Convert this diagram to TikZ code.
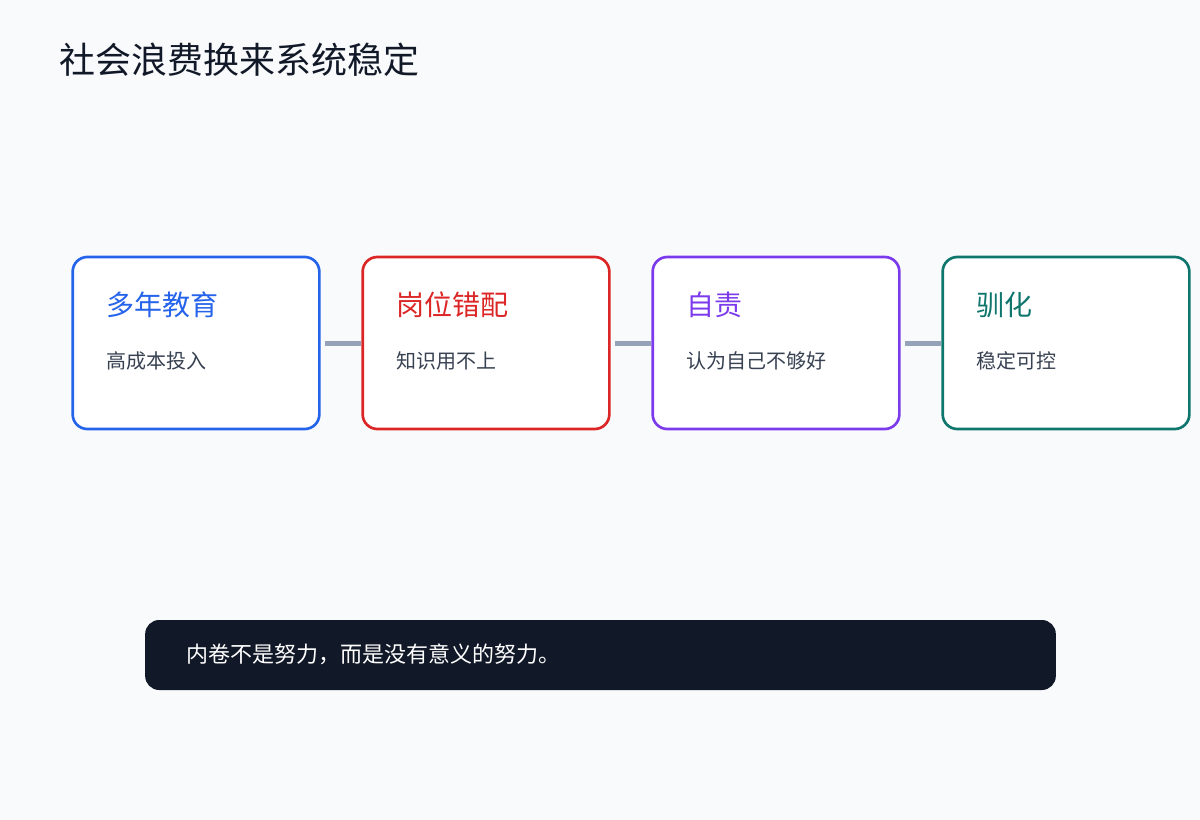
\documentclass[tikz,border=0pt]{standalone}
\usepackage{fontspec}
\setmainfont{Noto Sans CJK SC}
\definecolor{bgcol}{HTML}{F8FAFC}
\definecolor{inkdark}{HTML}{111827}
\definecolor{subgray}{HTML}{374151}
\definecolor{linkgray}{HTML}{94A3B8}
\definecolor{cblue}{HTML}{2563EB}
\definecolor{cred}{HTML}{DC2626}
\definecolor{cpurple}{HTML}{7C3AED}
\definecolor{cteal}{HTML}{0F766E}

\begin{document}
\begin{tikzpicture}[x=0.75pt,y=-0.75pt,
  box/.style={draw=#1,fill=white,line width=2pt,rounded corners=11pt,minimum width=185pt,minimum height=129pt},
  head/.style={anchor=west,inner sep=0pt,text=#1,font=\fontsize{21}{25}\selectfont},
  sub/.style={anchor=west,inner sep=0pt,text=subgray,font=\fontsize{15}{18}\selectfont},
  link/.style={draw=linkgray,line width=3.75pt,shorten <=3pt}]
\fill[bgcol] (0,0) rectangle (1200,820);
\useasboundingbox (0,0) rectangle (1200,820);
\node[anchor=west,inner sep=0pt,text=inkdark,font=\fontsize{27}{32}\selectfont] (title) at (59,60) {社会浪费换来系统稳定};
\node[box=cblue] (A) at (196,343) {};
\node[box=cred] (B) at (486,343) {};
\node[box=cpurple] (C) at (776,343) {};
\node[box=cteal] (D) at (1066,343) {};
\node[head=cblue] (A1) at (106,305) {多年教育};
\node[sub] (A2) at (106,361) {高成本投入};
\node[head=cred] (B1) at (396,305) {岗位错配};
\node[sub] (B2) at (396,361) {知识用不上};
\node[head=cpurple] (C1) at (686,305) {自责};
\node[sub] (C2) at (686,361) {认为自己不够好};
\node[head=cteal] (D1) at (976,305) {驯化};
\node[sub] (D2) at (976,361) {稳定可控};
\draw[link] (A) -- (B);
\draw[link] (B) -- (C);
\draw[link] (C) -- (D);
\node[fill=inkdark,rounded corners=10.5pt,minimum width=683pt,minimum height=52.5pt] (bar) at (600.5,655) {};
\node[anchor=west,inner sep=0pt,text=white,font=\fontsize{16.5}{20}\selectfont] (quote) at (186,654) {内卷不是努力，而是没有意义的努力。};
\end{tikzpicture}
\end{document}
